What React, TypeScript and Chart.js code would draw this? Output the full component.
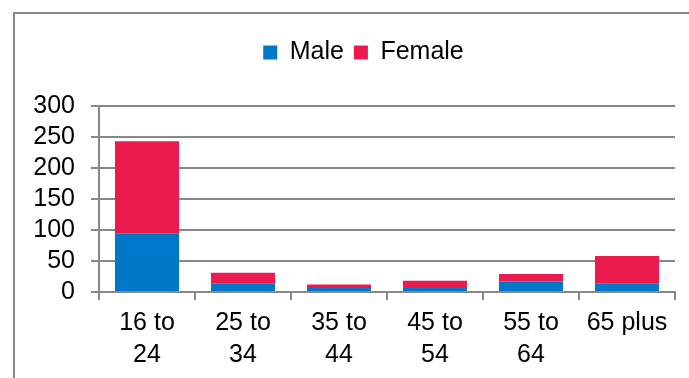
import React, { useEffect, useRef } from "react";
import { Chart, registerables } from "chart.js";

Chart.register(...registerables);

const categories: (string | string[])[] = [
  ["16 to", "24"],
  ["25 to", "34"],
  ["35 to", "44"],
  ["45 to", "54"],
  ["55 to", "64"],
  "65 plus",
];
const maleValues = [94, 14, 8, 8, 17, 14];
const femaleValues = [149, 17, 4, 10, 12, 44];
const seriesNames = ["Male", "Female"];
const yMin = 0;
const yMax = 300;
const yStep = 50;

const BLUE = "#0078C8";
const RED = "#ED1A4F";
const GRID = "#888888";
const FONT = "'Liberation Sans', Arial, sans-serif";

const legendSpacer = {
  id: "legendSpacer",
  beforeInit(chart: any) {
    const legend = chart.legend;
    if (!legend) return;
    const orig = legend.fit;
    legend.fit = function () {
      orig.call(this);
      this.height += 31;
    };
  },
  afterLayout(chart: any) {
    const legend = chart.legend;
    if (!legend) return;
    legend.left += 14;
    legend.right += 14;
  },
};

export default function App() {
  const ref = useRef<HTMLCanvasElement | null>(null);

  useEffect(() => {
    if (!ref.current) return;
    const chart = new Chart(ref.current, {
      type: "bar",
      plugins: [legendSpacer],
      data: {
        labels: categories,
        datasets: [
          {
            label: seriesNames[0],
            data: maleValues,
            backgroundColor: BLUE,
            barPercentage: 0.667,
            categoryPercentage: 1,
          },
          {
            label: seriesNames[1],
            data: femaleValues,
            backgroundColor: RED,
            barPercentage: 0.667,
            categoryPercentage: 1,
          },
        ],
      },
      options: {
        animation: false,
        responsive: false,
        maintainAspectRatio: false,
        layout: { padding: { left: 24, right: 14, top: 30, bottom: 0 } },
        font: { family: FONT, size: 25 },
        plugins: {
          legend: {
            display: true,
            position: "top",
            labels: {
              boxWidth: 14,
              boxHeight: 14,
              padding: 10,
              color: "#000",
              font: { family: FONT, size: 25 },
            },
          },
          tooltip: { enabled: false },
        },
        scales: {
          x: {
            stacked: true,
            grid: {
              display: true,
              drawOnChartArea: false,
              drawTicks: true,
              tickLength: 8,
              color: GRID,
              lineWidth: 2,
              offset: true,
            },
            border: { display: true, color: GRID, width: 2 },
            ticks: {
              color: "#000",
              font: { family: FONT, size: 25, lineHeight: 1.28 },
              maxRotation: 0,
              autoSkip: false,
              padding: 7,
            },
          },
          y: {
            stacked: true,
            min: yMin,
            max: yMax,
            afterFit: (scale: any) => {
              scale.width = 75;
            },
            grid: {
              display: true,
              drawOnChartArea: true,
              drawTicks: true,
              tickLength: 8,
              color: GRID,
              lineWidth: 2,
            },
            border: { display: true, color: GRID, width: 2 },
            ticks: {
              stepSize: yStep,
              autoSkip: false,
              color: "#000",
              font: { family: FONT, size: 25 },
              padding: 16,
            },
          },
        },
      },
    });
    return () => chart.destroy();
  }, []);

  return (
    <div
      style={{
        position: "fixed",
        left: 0,
        top: 0,
        width: 689,
        height: 378,
        background: "#fff",
        overflow: "hidden",
      }}
    >
      <div
        style={{
          position: "absolute",
          left: 13,
          top: 12,
          width: 800,
          height: 500,
          borderLeft: `2px solid ${GRID}`,
          borderTop: `2px solid ${GRID}`,
        }}
      />
      <canvas
        ref={ref}
        width={689}
        height={378}
        style={{ position: "absolute", left: 0, top: 0, width: 689, height: 378 }}
      />
    </div>
  );
}
